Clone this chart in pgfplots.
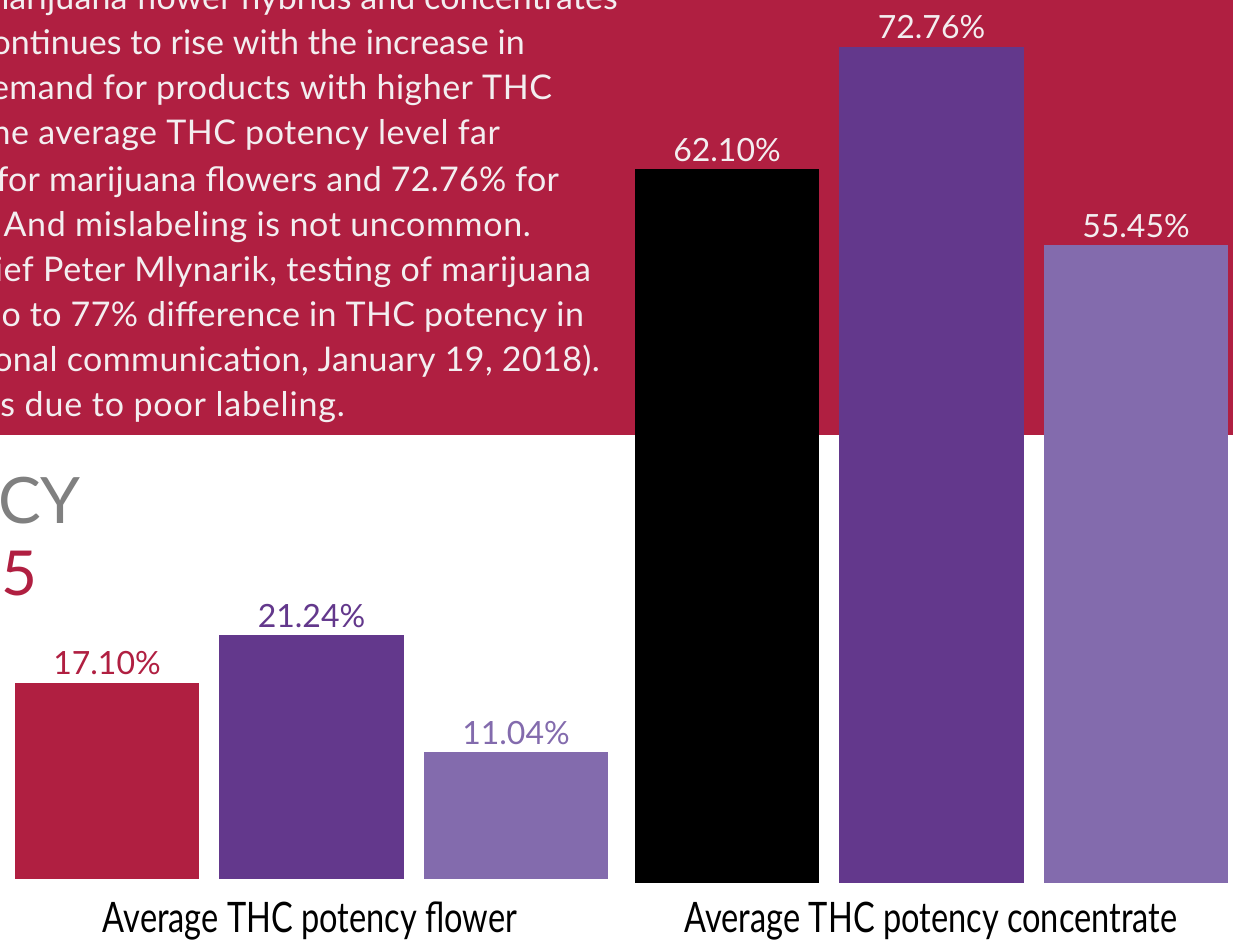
\documentclass[border=0pt]{standalone}
\usepackage{fontspec}
\setmainfont{Lato}
\usepackage{graphicx}
\usepackage{pgfplots}
\pgfplotsset{compat=1.18}
\definecolor{crimson}{HTML}{B01F41}
\definecolor{dpurple}{HTML}{63388C}
\definecolor{lpurple}{HTML}{836BAD}
\definecolor{txtwhite}{HTML}{F3EEF0}
\definecolor{titlegray}{HTML}{808080}
\newcommand{\bodyfont}{\fontsize{34}{45}\selectfont}
\newcommand{\labfont}{\fontsize{32}{36}\selectfont}
\newcommand{\condfont}{\fontsize{42}{50}\selectfont}
\newcommand{\ls}[1]{\addfontfeature{LetterSpace=#1}}
\begin{document}
\begin{tikzpicture}[x=1pt,y=1pt]
\useasboundingbox (0,0) rectangle (1233,940);
\clip (0,0) rectangle (1233,940);
\fill[white] (0,0) rectangle (1233,940);
\fill[crimson] (0,505) rectangle (1233,940);
% body text (right-aligned at measured right edges)
\begin{scope}[every node/.style={anchor=base east, inner sep=0pt, text=txtwhite, font=\bodyfont}]
\node at (618,930) {\ls{0.3}marijuana flower hybrids and concentrates};
\node at (525,885) {\ls{0.2}continues to rise with the increase in};
\node at (552,840) {\ls{1.4}demand for products with higher THC};
\node at (500,795) {\ls{1.4}the average THC potency level far};
\node at (559,748) {\ls{0.8}for marijuana flowers and 72.76\% for};
\node at (531,703) {\ls{1.9}And mislabeling is not uncommon.};
\node at (591,658) {\ls{1.6}Chief Peter Mlynarik, testing of marijuana};
\node at (584,613) {\ls{1.1}o to 77\% difference in THC potency in};
\node at (600,568) {\ls{1.2}personal communication, January 19, 2018).};
\node at (345,523) {\ls{2.4}s due to poor labeling.};
\end{scope}
\node[anchor=base east, inner sep=0pt, text=titlegray, font=\fontsize{64}{70}\selectfont] at (81,416) {CY};
\node[anchor=base east, inner sep=0pt, text=crimson, font=\fontsize{62}{70}\selectfont] at (38,344) {5};
% flower chart
\begin{axis}[at={(0,53)}, anchor=south west, scale only axis, width=1233pt, height=919.2pt,
  xmin=0, xmax=1233, ymin=0, ymax=80, hide axis, clip=false,
  nodes near coords={\pgfmathprintnumber[fixed,fixed zerofill,precision=2,assume math mode=true]{\pgfplotspointmeta}\%},
  every node near coord/.append style={anchor=base, inner sep=0pt, yshift=8pt, font=\labfont}]
\addplot[ybar, bar shift=0pt, bar width=184, fill=crimson, draw=none, every node near coord/.append style={text=crimson}] coordinates {(107,17.10)};
\addplot[ybar, bar shift=0pt, bar width=185, fill=dpurple, draw=none, every node near coord/.append style={text=dpurple}] coordinates {(311.5,21.24)};
\addplot[ybar, bar shift=0pt, bar width=184, fill=lpurple, draw=none, every node near coord/.append style={text=lpurple}] coordinates {(516,11.04)};
\end{axis}
% concentrate chart
\begin{axis}[at={(0,50)}, anchor=south west, scale only axis, width=1233pt, height=919.2pt,
  xmin=0, xmax=1233, ymin=0, ymax=80, hide axis, clip=false,
  nodes near coords={\pgfmathprintnumber[fixed,fixed zerofill,precision=2,assume math mode=true]{\pgfplotspointmeta}\%},
  every node near coord/.append style={anchor=base, inner sep=0pt, yshift=8pt, font=\labfont, text=txtwhite}]
\addplot[ybar, bar shift=0pt, bar width=184, fill=black, draw=none] coordinates {(727,62.10)};
\addplot[ybar, bar shift=0pt, bar width=185, fill=dpurple, draw=none] coordinates {(931.5,72.76)};
\addplot[ybar, bar shift=0pt, bar width=184, fill=lpurple, draw=none] coordinates {(1136,55.45)};
\end{axis}
\node[anchor=base, inner sep=0pt, font=\condfont] at (310,8) {\scalebox{0.775}[1]{Average THC potency flower}};
\node[anchor=base, inner sep=0pt, font=\condfont] at (931,8) {\scalebox{0.775}[1]{Average THC potency concentrate}};
\end{tikzpicture}
\end{document}
